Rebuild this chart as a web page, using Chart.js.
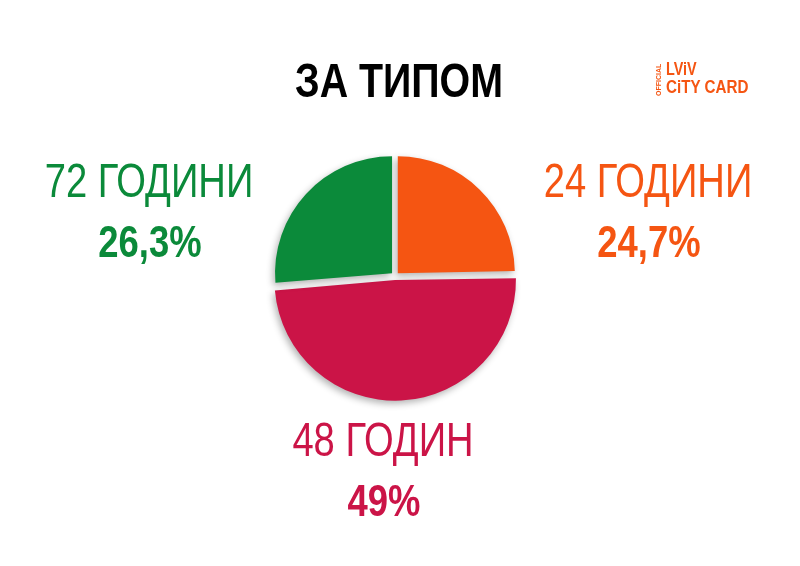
<!DOCTYPE html>
<html>
<head>
<meta charset="utf-8">
<script src="https://cdn.jsdelivr.net/npm/chart.js@4/dist/chart.umd.min.js"></script>
<style>
  html, body { margin: 0; padding: 0; background: #fff; }
  #wrap { position: relative; width: 800px; height: 566px; overflow: hidden; }
  #chartTipy { position: absolute; left: 0; top: 0; }
  .txt {
    position: absolute; white-space: nowrap; line-height: 1;
    font-family: "Liberation Sans", sans-serif;
    transform-origin: center top;
  }
  .logo {
    position: absolute; color: #F55512; font-family: "Liberation Sans", sans-serif;
    font-weight: bold; line-height: 1; white-space: nowrap; transform-origin: left top;
  }
</style>
</head>
<body>
<div id="wrap">
  <canvas id="chartTipy" width="800" height="566"></canvas>
</div>
<script>
const chartTitle = 'ЗА ТИПОМ';
const categories = ['24 ГОДИНИ', '48 ГОДИН', '72 ГОДИНИ'];
const shares = [24.7, 49, 26.3];
const shareLabels = ['24,7%', '49%', '26,3%'];
const sliceColors = ['#F55512', '#CB1447', '#0B8A3A'];

// where each label block sits (center x, cap top of first line)
const labelPos = [
    { x: 648, y: 163 },
    { x: 383, y: 422 },
    { x: 149, y: 163 }
];

const wrap = document.getElementById('wrap');

function addText(str, x, capTop, size, weight, color, sx) {
    const d = document.createElement('div');
    d.className = 'txt';
    d.textContent = str;
    d.style.fontSize = size + 'px';
    d.style.fontWeight = weight;
    d.style.color = color;
    d.style.left = x + 'px';
    d.style.top = (capTop - 0.13 * size) + 'px';
    d.style.transform = 'translateX(-50%) scaleX(' + sx + ')';
    wrap.appendChild(d);
    return d;
}

addText(chartTitle, 399, 63, 48, 'bold', '#000', 0.82);
categories.forEach((c, i) => {
    addText(c, labelPos[i].x, labelPos[i].y, 48, 'normal', sliceColors[i], 0.795);
    addText(shareLabels[i], labelPos[i].x + 1, labelPos[i].y + 62, 45, 'bold', sliceColors[i], 0.81);
});

// logo
const logo = [
    { t: 'LViV', x: 666, y: 60, s: 18 },
    { t: 'CiTY CARD', x: 666, y: 77, s: 19 }
];
logo.forEach(l => {
    const d = document.createElement('div');
    d.className = 'logo';
    d.textContent = l.t;
    d.style.left = l.x + 'px';
    d.style.top = l.y + 'px';
    d.style.fontSize = l.s + 'px';
    d.style.transform = 'scaleX(0.8)';
    wrap.appendChild(d);
});
const off = document.createElement('div');
off.className = 'logo';
off.textContent = 'OFFICIAL';
off.style.fontSize = '7px';
off.style.left = '655px';
off.style.top = '96px';
off.style.transform = 'rotate(-90deg)';
wrap.appendChild(off);

const shadowPlugin = {
    id: 'sliceShadow',
    beforeDatasetsDraw(chart) {
        const c = chart.ctx;
        c.save();
        c.shadowColor = 'rgba(0,0,0,0.3)';
        c.shadowBlur = 7;
        c.shadowOffsetX = -2;
        c.shadowOffsetY = 3;
    },
    afterDatasetsDraw(chart) {
        chart.ctx.restore();
    }
};

const ctx = document.getElementById('chartTipy').getContext('2d');
new Chart(ctx, {
    type: 'pie',
    data: {
        labels: categories,
        datasets: [{
            data: shares,
            backgroundColor: sliceColors,
            borderWidth: 0,
            offset: 16,
            radius: 117
        }]
    },
    options: {
        responsive: false,
        animation: false,
        layout: { padding: { left: 0, right: 10, top: 0, bottom: 14 } },
        plugins: {
            legend: { display: false },
            tooltip: { enabled: false }
        }
    },
    plugins: [shadowPlugin]
});
</script>
</body>
</html>
